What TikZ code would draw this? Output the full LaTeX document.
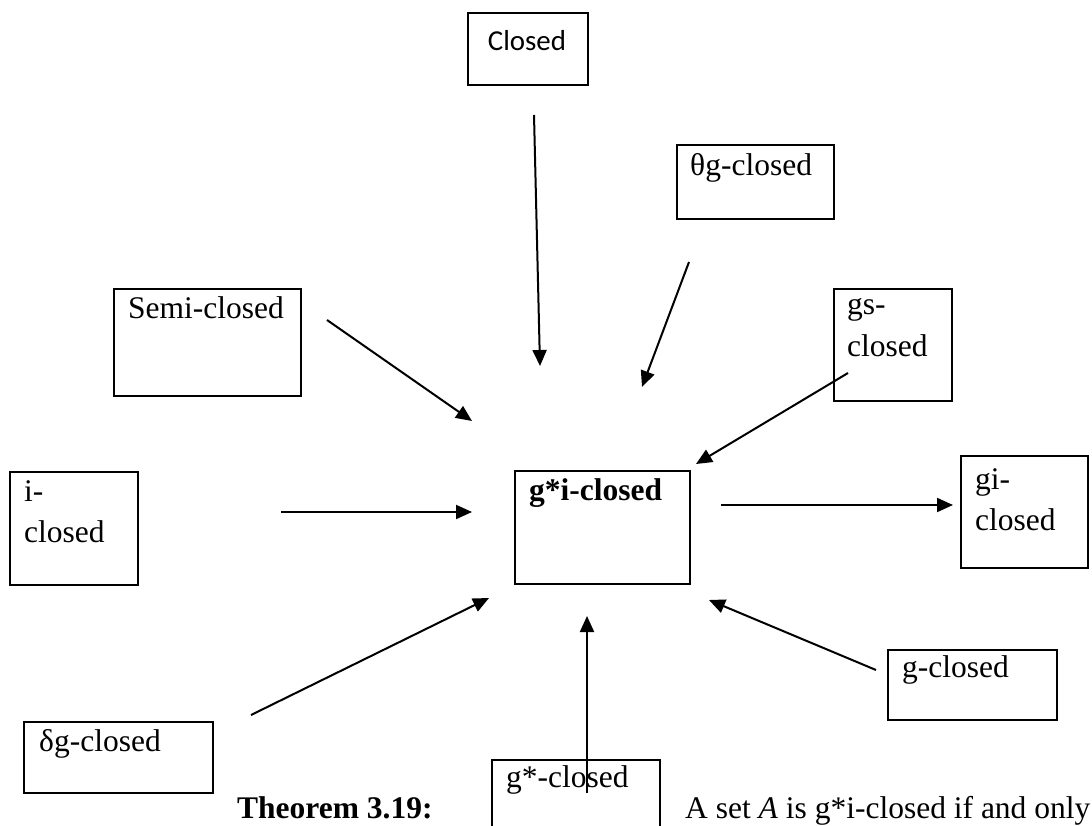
\documentclass[tikz,border=0pt]{standalone}
\usepackage{fontspec}
\setmainfont{Liberation Serif}
\newfontfamily\calibrifont{Carlito}
\usetikzlibrary{arrows.meta}

\begin{document}
\begin{tikzpicture}
[x=1pt,y=-1pt,
	 setbox/.style={draw,line width=2pt,inner sep=0pt,anchor=north west},
	 settext/.style={anchor=base west,inner sep=0pt,font=\fontsize{31.5}{41}\selectfont},
	 implies/.style={->,line width=2pt,>={Triangle[length=16pt,width=14pt]}}];
\useasboundingbox (0,0) rectangle (1092,826);

% the boxes
\node[setbox,minimum width=120pt,minimum height=72pt] (closed) at (467,12) {};
\node[setbox,minimum width=157pt,minimum height=74pt] (thetag) at (676,144) {};
\node[setbox,minimum width=187pt,minimum height=107pt] (semi) at (113,288) {};
\node[setbox,minimum width=118pt,minimum height=112pt] (gs) at (833,288) {};
\node[setbox,minimum width=128pt,minimum height=113pt] (iclosed) at (9,471) {};
\node[setbox,minimum width=175pt,minimum height=113pt] (gstari) at (514,470) {};
\node[setbox,minimum width=127pt,minimum height=112pt] (gi) at (960,455) {};
\node[setbox,minimum width=169pt,minimum height=70pt] (gclosed) at (887,649) {};
\node[setbox,minimum width=189pt,minimum height=71pt] (deltag) at (23,721) {};
\node[setbox,minimum width=168pt,minimum height=100pt] (gstar) at (491,759) {};

% their texts
\node[anchor=base,inner sep=0pt,font=\calibrifont\fontsize{28.9}{35}\selectfont] (closedtext) at (527,51) {Closed};
\node[settext] (thetagtext) at (690,176) {θg-closed};
\node[settext] (semitext) at (128,318) {Semi-closed};
\node[settext] (gstext) at (847,315) {\begin{tabular}[t]{@{}l@{}}gs-\\closed\end{tabular}};
\node[settext] (itext) at (24,501) {\begin{tabular}[t]{@{}l@{}}i-\\closed\end{tabular}};
\node[settext] (gstaritext) at (529,500) {\textbf{g*i-closed}};
\node[settext] (gitext) at (975,489) {\begin{tabular}[t]{@{}l@{}}gi-\\closed\end{tabular}};
\node[settext] (gtext) at (902,677) {g-closed};
\node[settext] (deltagtext) at (39,751) {δg-closed};
\node[settext] (gstartext) at (506,787) {g*-closed};
\node[settext] (theorem) at (237,818) {\textbf{Theorem 3.19:}};
\node[settext] (statement) at (685,818) {A set \textit{A} is g*i-closed if and only};

% arrow ends
\coordinate (closedtail) at (534,115);   \coordinate (closedtip) at (540,366);
\coordinate (thetagtail) at (689,262);   \coordinate (thetagtip) at (642,387);
\coordinate (semitail) at (327,320);     \coordinate (semitip) at (472,421);
\coordinate (gstail) at (848,373);       \coordinate (gstip) at (696,464);
\coordinate (itail) at (281,512);        \coordinate (itip) at (472,512);
\coordinate (gitail) at (721,505);       \coordinate (gitip) at (953,505);
\coordinate (gtail) at (876,670);        \coordinate (gtip) at (709,600);
\coordinate (deltagtail) at (251,715);   \coordinate (deltagtip) at (489,598);
\coordinate (gstartail) at (587,793);    \coordinate (gstartip) at (587,616);

\draw[implies] (closedtail) -- (closedtip);
\draw[implies] (thetagtail) -- (thetagtip);
\draw[implies] (semitail) -- (semitip);
\draw[implies] (gstail) -- (gstip);
\draw[implies] (itail) -- (itip);
\draw[implies] (gitail) -- (gitip);
\draw[implies] (gtail) -- (gtip);
\draw[implies] (deltagtail) -- (deltagtip);
\draw[implies] (gstartail) -- (gstartip);

\end{tikzpicture}
\end{document}
